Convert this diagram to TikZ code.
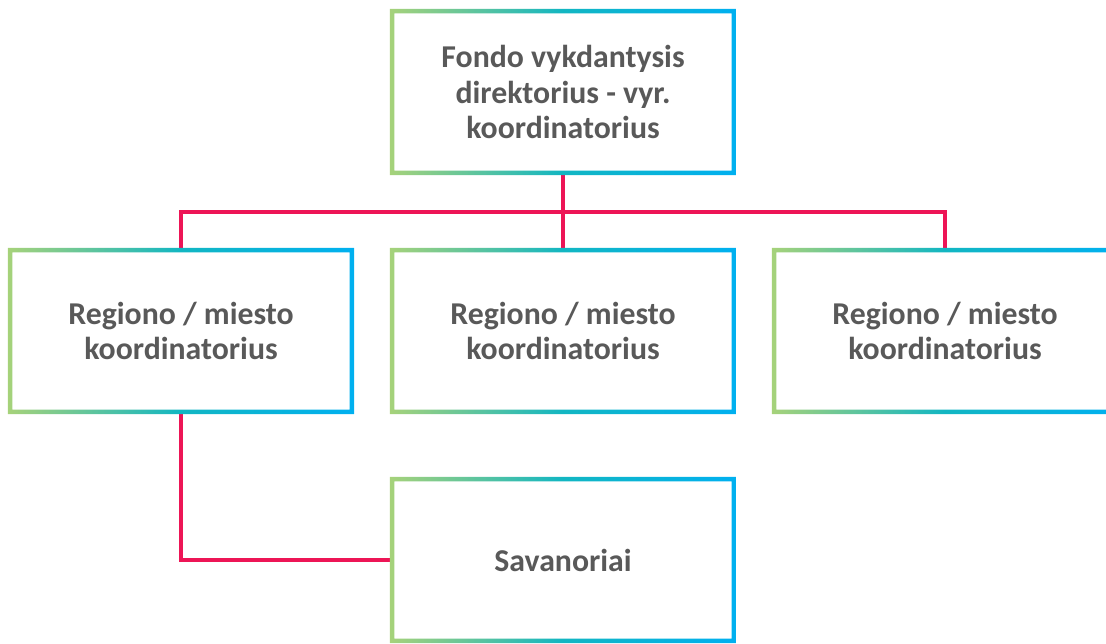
\documentclass[tikz,border=0pt]{standalone}
\usepackage{fontspec}
\setmainfont{Carlito}
\usepackage{tikz}

\definecolor{frameL}{HTML}{A6D27A}
\definecolor{frameM}{HTML}{12B6C2}
\definecolor{frameR}{HTML}{00B0F0}
\definecolor{linkred}{HTML}{ED1556}
\definecolor{txtgray}{HTML}{595959}

\tikzset{
  unit/.style={rectangle, minimum width=8.65cm, minimum height=4.15cm, inner sep=0pt, outer sep=0pt,
    align=center, text=txtgray, font=\fontsize{22.6}{25}\selectfont\bfseries},
  link/.style={draw=linkred, line width=2.9pt}
}

% gradient frame round a named node
\newcommand{\gradframe}[1]{%
  \shade[left color=frameL, right color=frameR, middle color=frameM, even odd rule]
    (#1.south west) rectangle (#1.north east)
    ([shift={(0.11cm,0.11cm)}]#1.south west) rectangle ([shift={(-0.11cm,-0.11cm)}]#1.north east);}

\begin{document}
\begin{tikzpicture}[x=0.025cm, y=-0.025cm]
            \useasboundingbox (0,0) rectangle (1106,644);

            % Boxes
            \node[unit] (fund) at (563,92) {Fondo vykdantysis\\direktorius - vyr.\\koordinatorius};
            \node[unit] (reg1) at (181,331) {Regiono / miesto\\koordinatorius};
            \node[unit] (reg2) at (563,331) {Regiono / miesto\\koordinatorius};
            \node[unit] (reg3) at (945,331) {Regiono / miesto\\koordinatorius};
            \node[unit] (sav) at (563,560) {Savanoriai};

            % Connectors
            \coordinate (bus) at (563,212);
            \draw[link] (fund.south) -- (bus);
            \draw[link] (reg1.north) |- (bus) -| (reg3.north);
            \draw[link] (bus) -- (reg2.north);
            \draw[link] (reg1.south) |- (sav.west);

            % Frames
            \gradframe{fund}
            \gradframe{reg1}
            \gradframe{reg2}
            \gradframe{reg3}
            \gradframe{sav}
        \end{tikzpicture}
\end{document}
